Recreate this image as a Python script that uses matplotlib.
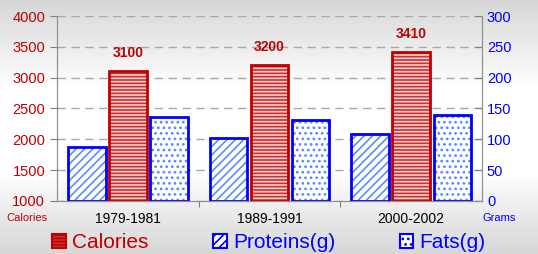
import numpy as np
import matplotlib.pyplot as plt
from matplotlib.patches import Patch

plt.rcParams['font.family'] = ['Liberation Sans', 'DejaVu Sans']
plt.rcParams['hatch.linewidth'] = 1.2

periods = ['1979-1981', '1989-1991', '2000-2002']
calories = [3100, 3200, 3410]
proteins = [87, 102, 109]
fats = [136, 131, 140]

red = '#c00000'
blue = '#0000ff'

fig = plt.figure(figsize=(5.38, 2.54), dpi=100)

# background gradient
bg = fig.add_axes([0, 0, 1, 1], zorder=-10)
g = np.concatenate([np.linspace(0.84, 1.0, 90), np.ones(80), np.linspace(1.0, 0.84, 84)])
bg.imshow(g[:, None], aspect='auto', cmap='gray', vmin=0, vmax=1, extent=[0, 1, 0, 1])
bg.axis('off')

ax = fig.add_axes([0.106, 0.209, 0.79, 0.728])
ax.patch.set_alpha(0)
ax2 = ax.twinx()

x = np.arange(len(periods))
w = 0.265
step = 0.29

# proteins (right axis)
ax2.bar(x - step, proteins, w, color='white', edgecolor='#5a8cff', hatch='////', linewidth=0)
ax2.bar(x - step, proteins, w, fill=False, edgecolor=blue, linewidth=2)
# fats (right axis)
ax2.bar(x + step, fats, w, color='white', edgecolor='#5a8cff', hatch='...', linewidth=0)
ax2.bar(x + step, fats, w, fill=False, edgecolor=blue, linewidth=2)
# calories (left axis) drawn on ax2 scale so it sits on top
cal_scaled = [(c - 1000) / 3000 * 300 for c in calories]
ax2.bar(x, cal_scaled, w, color='#cc3030', edgecolor='#f6d0d0', hatch='-----', linewidth=0)
ax2.bar(x, cal_scaled, w, fill=False, edgecolor=red, linewidth=2)
for xi, c, cs in zip(x, calories, cal_scaled):
    ax2.annotate(str(c), (xi, cs), xytext=(0, 8), textcoords='offset points',
                 ha='center', va='bottom', color=red, fontsize=10, fontweight='bold')

ax.set_ylim(1000, 4000)
ax.set_yticks(range(1000, 4001, 500))
ax2.set_ylim(0, 300)
ax2.set_yticks(range(0, 301, 50))
ax.set_xlim(-0.5, 2.5)
ax.set_xticks([0.5, 1.5])
ax.set_xticklabels([])
ax.tick_params(axis='x', length=4, color='#808080', direction='out')
for xi, p in zip(x, periods):
    ax.text(xi, -0.1, p, transform=ax.get_xaxis_transform(), ha='center', va='center', fontsize=10)

ax.yaxis.grid(True, color='#a8a8a8', linestyle=(0, (6, 4)), linewidth=1)
ax.set_axisbelow(True)
ax.tick_params(axis='y', colors=red, labelsize=10.5, length=5, color='#808080')
ax2.tick_params(axis='y', colors=blue, labelsize=10.5, length=5, color='#808080', direction='in')
for a in (ax, ax2):
    a.spines['top'].set_visible(False)
    for s in ('left', 'right', 'bottom'):
        a.spines[s].set_color('#909090')

ax.text(-0.07, -0.095, 'Calories', transform=ax.transAxes, color=red, fontsize=8, ha='center', va='center')
ax.text(1.0, -0.09, 'Grams', transform=ax.transAxes, color=blue, fontsize=8, ha='left', va='center')

handles = [
    Patch(facecolor='#cc3030', edgecolor=red, hatch='-----', linewidth=1.5, label='Calories'),
    Patch(facecolor='white', edgecolor=blue, hatch='////', linewidth=1.5, label='Proteins(g)'),
    Patch(facecolor='white', edgecolor=blue, hatch='...', linewidth=1.5, label='Fats(g)'),
]
leg = fig.legend(handles=handles, loc='center', bbox_to_anchor=(0.5, 0.045), ncol=3, frameon=False,
                 fontsize=15, handlelength=0.65, handleheight=0.65, handletextpad=0.3, columnspacing=3.1)
for t, c in zip(leg.get_texts(), [red, blue, blue]):
    t.set_color(c)

fig.savefig('out.png', dpi=100)
